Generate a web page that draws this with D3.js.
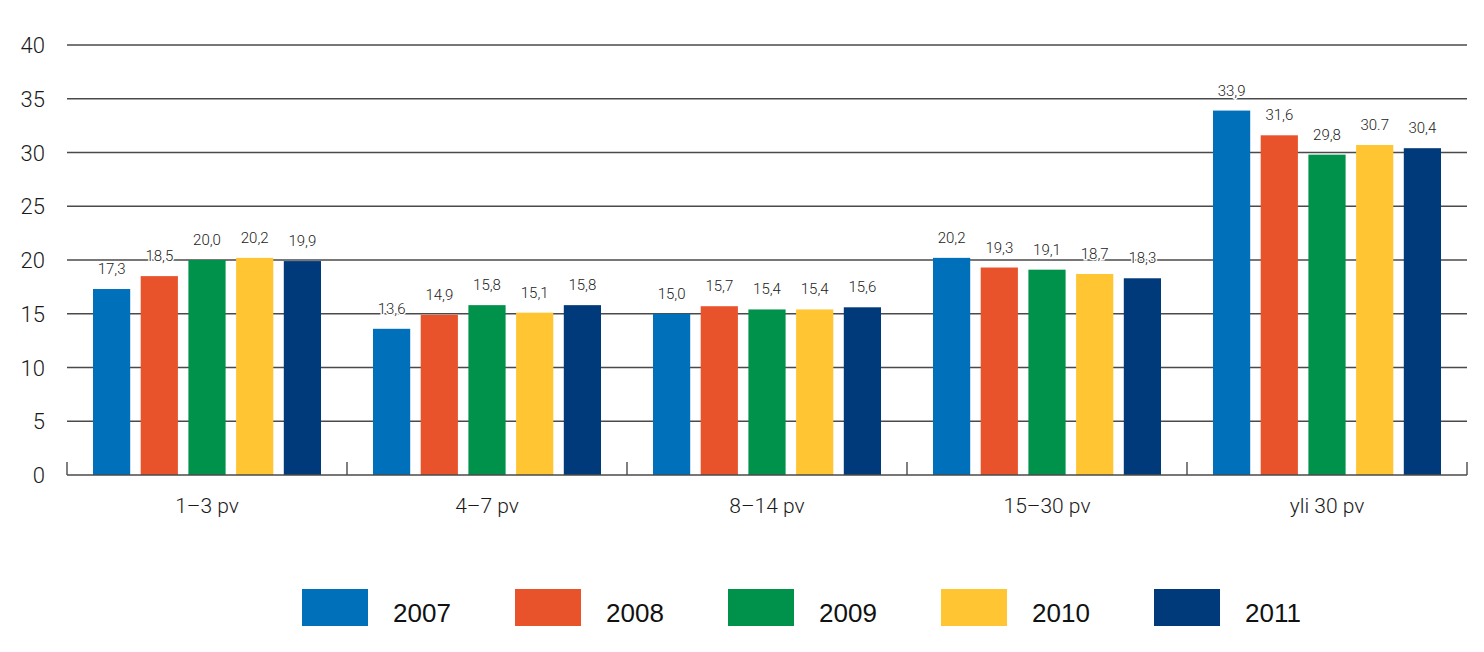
<!DOCTYPE html>
<html>
<head>
<meta charset="utf-8">
<script src="https://cdn.jsdelivr.net/npm/d3@7"></script>
<style>
  html, body { margin: 0; padding: 0; background: #fff; }
  svg { display: block; }
</style>
</head>
<body>
<svg id="chart" width="1484" height="652"></svg>
<script>
const categories = ["1–3 pv", "4–7 pv", "8–14 pv", "15–30 pv", "yli 30 pv"];
const years = ["2007", "2008", "2009", "2010", "2011"];
const values2007 = [17.3, 13.6, 15.0, 20.2, 33.9];
const values2008 = [18.5, 14.9, 15.7, 19.3, 31.6];
const values2009 = [20.0, 15.8, 15.4, 19.1, 29.8];
const values2010 = [20.2, 15.1, 15.4, 18.7, 30.7];
const values2011 = [19.9, 15.8, 15.6, 18.3, 30.4];
const labels2007 = ["17,3", "13,6", "15,0", "20,2", "33,9"];
const labels2008 = ["18,5", "14,9", "15,7", "19,3", "31,6"];
const labels2009 = ["20,0", "15,8", "15,4", "19,1", "29,8"];
const labels2010 = ["20,2", "15,1", "15,4", "18,7", "30.7"];
const labels2011 = ["19,9", "15,8", "15,6", "18,3", "30,4"];
const yTicks = [0, 5, 10, 15, 20, 25, 30, 35, 40];
const colors = ["#0070ba", "#e8532b", "#00924a", "#ffc533", "#003a7a"];

const seriesValues = [values2007, values2008, values2009, values2010, values2011];
const seriesLabels = [labels2007, labels2008, labels2009, labels2010, labels2011];

const lightFont = "Roboto, 'Noto Sans', sans-serif";

const svg = d3.select("#chart");
const mLeft = 67, mRight = 1467, mTop = 45, mBottom = 475;

const y = d3.scaleLinear().domain([0, 40]).range([mBottom, mTop]);
const x0 = d3.scaleBand().domain(categories).range([mLeft, mRight]).padding(0);
const x1 = d3.scaleBand().domain(years).range([26, x0.bandwidth() - 26]).paddingInner(0.22).paddingOuter(0);
const color = d3.scaleOrdinal().domain(years).range(colors);

// gridlines
svg.append("g").selectAll("line")
  .data(yTicks.filter(d => d > 0))
  .join("line")
  .attr("x1", mLeft).attr("x2", mRight)
  .attr("y1", d => y(d)).attr("y2", d => y(d))
  .attr("stroke", "#4a4a4a").attr("stroke-width", 1.4);

// y tick labels
svg.append("g").selectAll("text")
  .data(yTicks)
  .join("text")
  .attr("x", 45).attr("y", d => y(d) + 8)
  .attr("text-anchor", "end")
  .attr("font-family", lightFont)
  .attr("font-weight", 300)
  .attr("font-size", 22)
  .attr("fill", "#1a1a1a")
  .text(d => d);

// bars
const groups = svg.append("g").selectAll("g")
  .data(categories)
  .join("g")
  .attr("transform", d => `translate(${x0(d)},0)`);

const rowData = (c, ci) => years.map((yr, si) => ({ yr, v: seriesValues[si][ci], lab: seriesLabels[si][ci] }));

groups.selectAll("rect")
  .data(rowData)
  .join("rect")
  .attr("x", d => x1(d.yr))
  .attr("width", x1.bandwidth())
  .attr("y", d => y(d.v))
  .attr("height", d => y(0) - y(d.v))
  .attr("fill", d => color(d.yr));

groups.selectAll("text.val")
  .data(rowData)
  .join("text")
  .attr("class", "val")
  .attr("x", d => x1(d.yr) + x1.bandwidth() / 2)
  .attr("y", d => y(d.v) - 15)
  .attr("text-anchor", "middle")
  .attr("font-family", lightFont)
  .attr("font-weight", 300)
  .attr("font-size", 15)
  .attr("fill", "#222")
  .attr("stroke", "#fff")
  .attr("stroke-width", 3)
  .attr("paint-order", "stroke")
  .text(d => d.lab);

// x axis baseline and ticks
svg.append("line")
  .attr("x1", mLeft).attr("x2", mRight)
  .attr("y1", mBottom).attr("y2", mBottom)
  .attr("stroke", "#4a4a4a").attr("stroke-width", 1.4);
const boundaries = [...categories.map(c => x0(c)), mRight];
svg.append("g").selectAll("line")
  .data(boundaries)
  .join("line")
  .attr("x1", d => d).attr("x2", d => d)
  .attr("y1", mBottom - 13).attr("y2", mBottom)
  .attr("stroke", "#4a4a4a").attr("stroke-width", 1.4);

svg.append("g").selectAll("text")
  .data(categories)
  .join("text")
  .attr("x", d => x0(d) + x0.bandwidth() / 2)
  .attr("y", 513)
  .attr("text-anchor", "middle")
  .attr("font-family", lightFont)
  .attr("font-weight", 300)
  .attr("font-size", 21)
  .attr("fill", "#1a1a1a")
  .text(d => d);

// legend
const legend = svg.append("g").selectAll("g")
  .data(years)
  .join("g")
  .attr("transform", (d, i) => `translate(${302 + i * 213},589)`);
legend.append("rect")
  .attr("width", 66).attr("height", 37)
  .attr("fill", d => color(d));
legend.append("text")
  .attr("x", 91).attr("y", 33)
  .attr("font-family", "'Liberation Sans', Arial, sans-serif")
  .attr("font-size", 26)
  .attr("fill", "#111")
  .text(d => d);
</script>
</body>
</html>
